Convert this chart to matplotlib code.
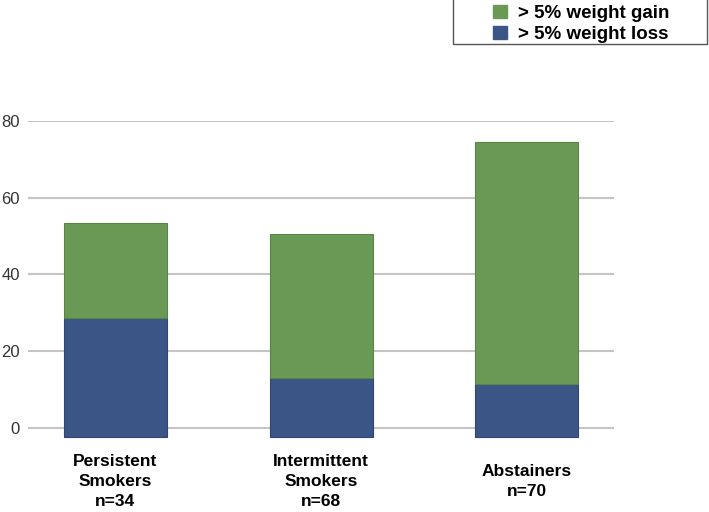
import matplotlib
matplotlib.use("Agg")
import matplotlib.pyplot as plt
from matplotlib.patches import Rectangle, Patch

categories = ["Persistent\nSmokers\nn=34", "Intermittent\nSmokers\nn=68", "Abstainers\nn=70"]
weight_loss = [28.6, 13.2, 11.4]
weight_gain_total = [53.3, 50.4, 74.4]
weight_gain = [t - l for t, l in zip(weight_gain_total, weight_loss)]
yticks = [0, 20, 40, 60, 80]
series_labels = ["> 5% weight gain", "> 5% weight loss"]

plt.rcParams['font.family'] = ['Liberation Sans', 'DejaVu Sans']

GREEN = "#6a9956"
BLUE = "#3b5686"
DEPTH = -2.2  # visual base offset of bars below zero line

W, H = 709, 512
fig = plt.figure(figsize=(W / 100, H / 100), dpi=100)
left, right = 28 / W, 614.3 / W
top, bottom = 1 - 120.7 / H, 1 - 439.8 / H
ax = fig.add_axes([left, bottom, right - left, top - bottom])

x = list(range(len(categories)))
loss_h = [v - DEPTH for v in weight_loss]
ax.bar(x, loss_h, bottom=DEPTH, width=0.5, color=BLUE, edgecolor="#2f466f", linewidth=0.8, zorder=3)
ax.bar(x, weight_gain, bottom=weight_loss, width=0.5, color=GREEN, edgecolor="#5a8447", linewidth=0.8, zorder=3)

ax.set_xlim(-0.425, 2.425)
ax.set_ylim(-3, 80)
ax.set_yticks(yticks)
ax.set_yticklabels([str(t) for t in yticks], fontsize=12, color="#333333")
ax.yaxis.grid(True, color="#c4c4c4", linewidth=1.5, zorder=0)
ax.set_axisbelow(True)
ax.tick_params(axis='y', length=0, pad=6)
ax.set_xticks(x)
ax.set_xticklabels(categories, fontsize=12.5, fontweight='bold', va='center', linespacing=1.4)
ax.tick_params(axis='x', length=0, pad=30)
for s in ax.spines.values():
    s.set_visible(False)

# legend box
fig.patches.append(Rectangle((453 / W, 1 - 44 / H), (707 - 453) / W, 46 / H,
                             transform=fig.transFigure, facecolor='white',
                             edgecolor='#555555', linewidth=1.0))
handles = [Patch(facecolor=GREEN, edgecolor=GREEN), Patch(facecolor=BLUE, edgecolor=BLUE)]
fig.legend(handles, series_labels, loc='upper left', bbox_to_anchor=(493 / W, 1 - 5 / H),
           frameon=False, prop={'weight': 'bold', 'size': 13.5}, handlelength=0.72,
           handleheight=0.72, handletextpad=0.6, labelspacing=0.2, borderpad=0, borderaxespad=0)

fig.savefig("out.png", dpi=100)
